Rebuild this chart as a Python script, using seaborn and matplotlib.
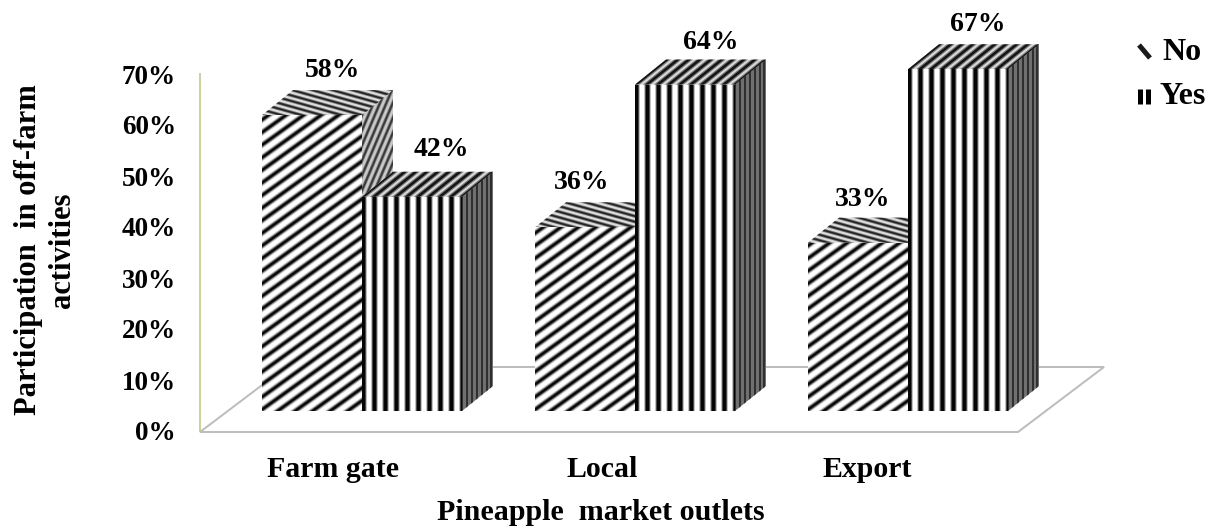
import numpy as np
import pandas as pd
import matplotlib
matplotlib.use("Agg")
import matplotlib.pyplot as plt
from matplotlib.collections import LineCollection
from matplotlib.patches import Polygon
from matplotlib.transforms import IdentityTransform, ScaledTranslation
import seaborn as sns

outlets = ["Farm gate", "Local", "Export"]
no_share = [58, 36, 33]
yes_share = [42, 64, 67]
y_ticks = [0, 10, 20, 30, 40, 50, 60, 70]
x_title = "Pineapple  market outlets"
y_title = "Participation  in off-farm\nactivities"

W, H, DPI = 1220, 528, 100
DEPTH = np.array([31.0, 25.0])          # extrusion of every bar, in pixels
SERIF = dict(family="Liberation Serif", weight="bold", color="black")
px = lambda n: n * 72.0 / DPI           # pixels to points

sns.set_theme(style="white")
fig = plt.figure(figsize=(W / DPI, H / DPI), dpi=DPI, facecolor="white")


def axes_box(left, top, right, bottom):
    return [left / W, 1 - bottom / H, (right - left) / W, (bottom - top) / H]


# Value axis standing at the back-left corner of the floor
frame = fig.add_axes(axes_box(200, 74, 1018, 431))
frame.set_ylim(0, 70)
frame.set_xlim(0, 1)
frame.patch.set_alpha(0)
sns.despine(ax=frame, top=True, right=True, bottom=True)
frame.spines["left"].set_color("#cdd19a")
frame.spines["left"].set_linewidth(px(2))
frame.set_xticks([])
frame.set_yticks(y_ticks)
frame.set_yticklabels([f"{t}%" for t in y_ticks], fontsize=19.5, **SERIF)
frame.tick_params(axis="y", length=0, pad=px(24))

# Front faces of the bars, on a plane raised above the floor's front edge
ax = fig.add_axes(axes_box(225.5, 54, 1044.5, 411))
table = pd.DataFrame({
    "outlet": outlets * 2,
    "answer": ["No"] * 3 + ["Yes"] * 3,
    "share": no_share + yes_share,
})
sns.barplot(data=table, x="outlet", y="share", hue="answer", order=outlets,
            hue_order=["No", "Yes"], palette={"No": "white", "Yes": "white"},
            width=200 / 273, gap=0, saturation=1, legend=False, ax=ax,
            linewidth=0)
ax.set_xlim(-0.5, 2.5)
ax.set_ylim(0, 70)
ax.patch.set_alpha(0)
sns.despine(ax=ax, left=True, bottom=True)
ax.set_yticks([])
ax.set_xlabel("")
ax.set_ylabel("")
ax.tick_params(axis="x", length=0, pad=px(45))
ax.set_xticks(range(len(outlets)))
ax.set_xticklabels(outlets, fontsize=21.5, **SERIF)
for label, shift in zip(ax.get_xticklabels(), (-29, -33, -41)):
    label.set_transform(label.get_transform()
                        + ScaledTranslation(px(shift) / 72, 0, fig.dpi_scale_trans))

fig.canvas.draw()
to_px = ax.transData.transform


def add_face(corners, color, zorder):
    face = Polygon(corners, closed=True, transform=IdentityTransform(),
                   facecolor=color, edgecolor="none", zorder=zorder, clip_on=False)
    ax.add_patch(face)
    return face


def stripes(clip, anchor, direction, step, layers, zorder, reach=900, count=90):
    """Parallel strokes through anchor + k*step, clipped to one face of a bar."""
    anchor, direction, step = map(np.asarray, (anchor, direction, step))
    unit = direction / np.hypot(*direction)
    segs = [[anchor + k * step - reach * unit, anchor + k * step + reach * unit]
            for k in range(-count, count + 1)]
    for i, (color, width) in enumerate(layers):
        lines = LineCollection(segs, colors=color, linewidths=px(width),
                               transform=IdentityTransform(), zorder=zorder + i * 0.01,
                               capstyle="butt")
        ax.add_collection(lines, autolim=False)
        lines.set_clip_path(clip.get_path(), clip.get_transform())
        lines.set_clip_box(fig.bbox)


def draw_block(rect, diagonal, zorder):
    (x0, y0), (x1, y1) = to_px([(rect.get_x(), 0),
                                (rect.get_x() + rect.get_width(), rect.get_height())])
    dx, dy = DEPTH
    top = add_face([(x0, y1), (x1, y1), (x1 + dx, y1 + dy), (x0 + dx, y1 + dy)],
                   "#dcdcdc", zorder)
    side = add_face([(x1, y0), (x1 + dx, y0 + dy), (x1 + dx, y1 + dy), (x1, y1)],
                    "#c8c8c8" if diagonal else "#707070", zorder)
    rect.set_zorder(zorder + 1)
    rect.set_facecolor("white")
    if diagonal:
        stripes(top, (x0, y1), (1, -0.28), (0, 5.6),
                [("#6e6e6e", 3.2), ("#222222", 1.5)], zorder + 0.1)
        stripes(side, (x1, y1), (1, 2.35), (6.4, 0),
                [("#6e6e6e", 3.2), ("#333333", 1.4)], zorder + 0.1)
        stripes(rect, (x0, y0 + 1.4), (1, 0.72), (0, 12.6),
                [("#bcbcbc", 6.0), ("#505050", 3.8), ("#0a0a0a", 2.2)], zorder + 1.1)
    else:
        stripes(top, (x0 + 0.8, y1), DEPTH, (11.0, 0),
                [("#808080", 5.0), ("#151515", 2.6)], zorder + 0.1)
        stripes(side, (x1, y0), (0, 1), (4.9, 0),
                [("#2c2c2c", 1.9)], zorder + 0.1)
        stripes(rect, (x0 + 0.8, y0), (0, 1), (11.0, 0),
                [("#c0c0c0", 7.0), ("#484848", 4.8), ("#050505", 3.2)], zorder + 1.1)


no_bars, yes_bars = ax.containers

# The floor sits under every bar
floor = Polygon([(200, H - 432), (1018, H - 432), (1104, H - 367), (286, H - 367)],
                closed=True, transform=IdentityTransform(), facecolor="white",
                edgecolor="#bdbdbd", linewidth=px(2), zorder=1, clip_on=False)
ax.add_patch(floor)

z = 10
for no_rect, yes_rect in zip(no_bars, yes_bars):
    draw_block(no_rect, True, z)
    draw_block(yes_rect, False, z + 5)
    z += 10

# Percentage above each block, nudged off its top face
label_nudges = [(71, 45), (79, 47), (47, 45), (76, 42), (55, 43), (70, 45)]
blocks = [r for pair in zip(no_bars, yes_bars) for r in pair]
shares = [v for pair in zip(no_share, yes_share) for v in pair]
for rect, value, (nx, ny) in zip(blocks, shares, label_nudges):
    ax.annotate(f"{value}%", xy=(rect.get_x(), value), xycoords="data",
                xytext=(px(nx), px(ny)), textcoords="offset points",
                ha="center", va="center", fontsize=20, zorder=200,
                annotation_clip=False, **SERIF)

fig.text(600.5 / W, 1 - 512 / H, x_title, ha="center", va="center", fontsize=21.6, **SERIF)
fig.text(45.5 / W, 1 - 250 / H, y_title, ha="center", va="center", rotation=90,
         fontsize=22, linespacing=1.23, multialignment="center", **SERIF)

# Hand-built key in the upper right corner
key_no = LineCollection([[(1139, H - 45), (1150, H - 58)]], colors="#1a1a1a",
                        linewidths=px(5), transform=IdentityTransform())
key_yes = LineCollection([[(1139.5, H - 89), (1139.5, H - 104)],
                          [(1148, H - 89), (1148, H - 104)]], colors="black",
                         linewidths=px(5), transform=IdentityTransform())
fig.add_artist(key_no)
fig.add_artist(key_yes)
fig.text(1162 / W, 1 - 53 / H, "No", ha="left", va="center", fontsize=23, **SERIF)
fig.text(1160 / W, 1 - 96 / H, "Yes", ha="left", va="center", fontsize=23, **SERIF)

fig.savefig("out.png", dpi=DPI, facecolor="white")
